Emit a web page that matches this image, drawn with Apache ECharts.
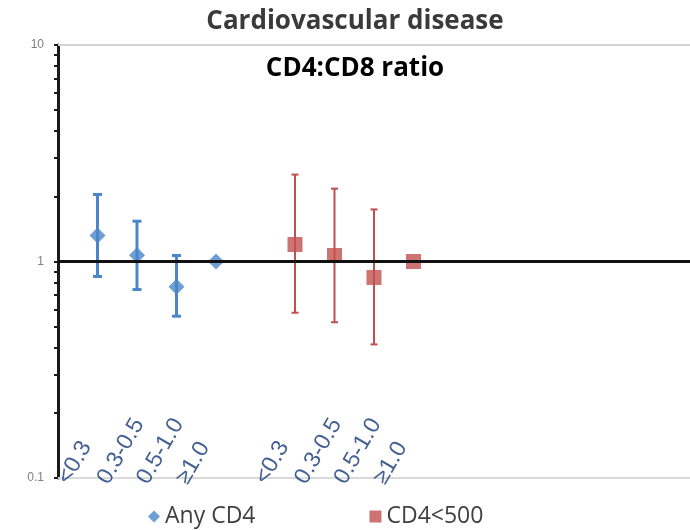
<!DOCTYPE html>
<html>
<head>
<meta charset="utf-8">
<script src="https://cdn.jsdelivr.net/npm/echarts/dist/echarts.min.js"></script>
<style>
	body { margin: 0; background: #fff; }
	#main { width: 690px; height: 530px; }
</style>
</head>
<body>
<div id="main"></div>
<script>
// 数据
var groups = ['<0.3', '0.3-0.5', '0.5-1.0', '≥1.0'];
var anySlots = [1, 2, 3, 4];
var lowSlots = [6, 7, 8, 9];

var anyCD4 = [1.32, 1.07, 0.764, 1.0];
var anyLower = [0.853, 0.742, 0.559, null];
var anyUpper = [2.04, 1.535, 1.066, null];

var cd4Under500 = [1.198, 1.066, 0.844, 1.0];
var cd4Lower = [0.58, 0.524, 0.414, null];
var cd4Upper = [2.52, 2.17, 1.74, null];

var yTickLabels = [0.1, 1, 10];
var yMinorTicks = [0.1, 0.2, 0.3, 0.4, 0.5, 0.6, 0.7, 0.8, 0.9, 1, 2, 3, 4, 5, 6, 7, 8, 9, 10];

var blue = '#4a86c8';
var red = '#c0504d';

function points(slots, vals) {
	var arr = [];
	for (var i = 0; i < slots.length; i++) {
		arr.push([slots[i], vals[i]]);
	}
	return arr;
}

function bars(slots, lo, hi) {
	var arr = [];
	for (var i = 0; i < slots.length; i++) {
		if (lo[i] != null && hi[i] != null) {
			arr.push([slots[i], lo[i], hi[i]]);
		}
	}
	return arr;
}

// 误差线
function errorBar(color, width, cap) {
	return function(params, api) {
		var top = api.coord([api.value(0), api.value(2)]);
		var bot = api.coord([api.value(0), api.value(1)]);
		var st = { stroke: color, lineWidth: width };
		return {
			type : 'group',
			children : [
				{ type: 'line', shape: { x1: top[0], y1: top[1], x2: bot[0], y2: bot[1] }, style: st },
				{ type: 'line', shape: { x1: top[0] - cap / 2, y1: top[1], x2: top[0] + cap / 2, y2: top[1] }, style: st },
				{ type: 'line', shape: { x1: bot[0] - cap / 2, y1: bot[1], x2: bot[0] + cap / 2, y2: bot[1] }, style: st }
			]
		};
	};
}

var labelData = [];
for (var i = 0; i < groups.length; i++) {
	labelData.push({ value: [anySlots[i], 0.1], name: groups[i] });
	labelData.push({ value: [lowSlots[i], 0.1], name: groups[i] });
}

var obj = echarts.init(document.getElementById('main'));
var option = {
	animation : false,
	title : [
		{
			text : 'Cardiovascular disease',
			left : 350,
			textAlign : 'center',
			top : 4,
			textStyle : { fontFamily: 'Open Sans', fontWeight: 'bold', fontSize: 26, color: '#3a3a3a' }
		}, {
			text : 'CD4:CD8 ratio',
			left : 350,
			textAlign : 'center',
			top : 51,
			textStyle : { fontFamily: 'Open Sans', fontWeight: 'bold', fontSize: 26, color: '#000' }
		}
	],
	legend : {
		left : 143,
		top : 500,
		itemGap : 114,
		itemWidth : 12,
		itemHeight : 12,
		textStyle : { fontFamily: 'Open Sans', fontSize: 23, color: '#404040' },
		data : [
			{ name: 'Any CD4', icon: 'diamond' },
			{ name: 'CD4<500', icon: 'rect' }
		]
	},
	grid : {
		left : 58,
		right : 0,
		top : 45,
		bottom : 52
	},
	xAxis : {
		type : 'value',
		min : 0,
		max : 16,
		axisLine : { show: true, lineStyle: { color: '#d9d9d9', width: 2 } },
		axisTick : { show: false },
		axisLabel : { show: false },
		splitLine : { show: false }
	},
	yAxis : {
		type : 'log',
		logBase : 10,
		min : 0.1,
		max : 10,
		axisLine : { show: true, lineStyle: { color: '#1a1a1a', width: 3 } },
		axisTick : {
			show : true,
			length : 4,
			customValues : yMinorTicks,
			lineStyle : { color: '#1a1a1a', width: 2 }
		},
		axisLabel : {
			customValues : yTickLabels,
			margin : 14,
			color : '#808080',
			fontSize : 12,
			fontFamily : 'Liberation Sans',
			formatter : function(v) {
				return String(parseFloat(Number(v).toPrecision(2)));
			}
		},
		splitLine : { show: false }
	},
	series : [
		{
			type : 'line',
			data : [],
			silent : true,
			z : 1,
			markLine : {
				silent : true,
				symbol : 'none',
				label : { show: false },
				data : [
					{ yAxis: 1, lineStyle: { color: '#111', width: 3, type: 'solid' } },
					{ yAxis: 10, lineStyle: { color: '#d4d4d4', width: 2, type: 'solid' } }
				]
			}
		}, {
			type : 'custom',
			z : 3,
			renderItem : errorBar(blue, 3, 9),
			data : bars(anySlots, anyLower, anyUpper)
		}, {
			type : 'custom',
			z : 3,
			renderItem : errorBar(red, 2, 7),
			data : bars(lowSlots, cd4Lower, cd4Upper)
		}, {
			name : 'Any CD4',
			type : 'scatter',
			z : 4,
			symbol : 'diamond',
			symbolSize : 16,
			itemStyle : { color: blue },
			data : points(anySlots, anyCD4)
		}, {
			name : 'CD4<500',
			type : 'scatter',
			z : 4,
			symbol : 'rect',
			symbolSize : 15,
			itemStyle : { color: red },
			data : points(lowSlots, cd4Under500)
		}, {
			type : 'scatter',
			silent : true,
			z : 5,
			symbolSize : 0,
			label : {
				show : true,
				position : [-24, 10],
				rotate : 60,
				align : 'left',
				verticalAlign : 'bottom',
				fontFamily : 'Liberation Sans',
				fontSize : 23,
				color : '#143878',
				formatter : function(p) { return p.name; }
			},
			data : labelData
		}
	]
};
obj.setOption(option);
</script>
</body>
</html>
